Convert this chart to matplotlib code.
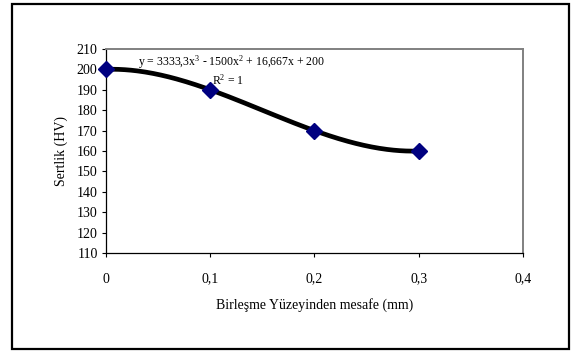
import matplotlib.pyplot as plt
import numpy as np
from matplotlib.patches import Rectangle

plt.rcParams.update({
    "font.family": ["Liberation Serif", "DejaVu Serif"],
    "font.size": 10,
    "mathtext.fontset": "custom",
    "mathtext.rm": "Liberation Serif",
    "mathtext.it": "Liberation Serif:italic",
})

mesafe = [0.0, 0.1, 0.2, 0.3]
sertlik = [200, 190, 170, 160]
x_ticks = [0.0, 0.1, 0.2, 0.3, 0.4]
x_labels = ["0", "0,1", "0,2", "0,3", "0,4"]
y_ticks = list(range(110, 211, 10))

fig = plt.figure(figsize=(5.79, 3.52), dpi=100)
fig.patches.append(Rectangle((0.021, 0.009), 0.962, 0.980, transform=fig.transFigure,
                             fill=False, ec="black", lw=1.6))
ax = fig.add_axes([0.183, 0.281, 0.720, 0.580])

# trend line (cubic fit)
katsayi = np.polyfit(mesafe, sertlik, 3)
gx = np.linspace(min(mesafe), max(mesafe), 200)
ax.plot(gx, np.polyval(katsayi, gx), color="black", lw=3.4, zorder=2, clip_on=False)
ax.plot(mesafe, sertlik, "D", color="#000080", ms=8, zorder=3, clip_on=False)

ax.text(0.031, 203.6, r"y = 3333,3x$^{\mathrm{3}}$ - 1500x$^{\mathrm{2}}$ + 16,667x + 200",
        va="center", fontsize=8.5)
ax.text(0.102, 194.8, r"R$^{\mathrm{2}}$ = 1", va="center", fontsize=8.5)

ax.set_xlim(0, 0.4)
ax.set_ylim(110, 210)
ax.set_xticks(x_ticks)
ax.set_xticklabels(x_labels)
ax.set_yticks(y_ticks)
ax.tick_params(axis="x", length=3, pad=11, width=0.8)
ax.tick_params(axis="y", length=3, pad=3, width=0.8)
for s in ("top", "right"):
    ax.spines[s].set_color("#808080")
    ax.spines[s].set_linewidth(1.4)
for s in ("left", "bottom"):
    ax.spines[s].set_color("black")
    ax.spines[s].set_linewidth(0.9)

ax.set_xlabel("Birleşme Yüzeyinden mesafe (mm)", labelpad=9)
ax.set_ylabel("Sertlik (HV)", labelpad=6)

fig.savefig("out.png", dpi=100, facecolor="white")
